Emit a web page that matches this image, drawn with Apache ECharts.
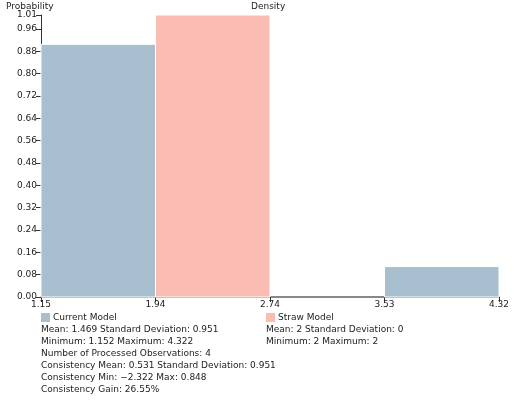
<!DOCTYPE html><html><head><meta charset="utf-8"><script src="https://cdn.jsdelivr.net/npm/echarts@6/dist/echarts.min.js"></script>
<style>html,body{margin:0;padding:0;background:#fff}#c{width:514px;height:416px}</style></head><body><div id="c"></div><script>
const tickLabels=['1.15','1.94','2.74','3.53','4.32'];
const currentBins=[[0,1,0.905],[3,4,0.109]];
const strawBins=[[1,2,1.01]];
const currentStats=['Mean: 1.469 Standard Deviation: 0.951','Minimum: 1.152 Maximum: 4.322','Number of Processed Observations: 4','Consistency Mean: 0.531 Standard Deviation: 0.951','Consistency Min: \u22122.322 Max: 0.848','Consistency Gain: 26.55%'];
const strawStats=['Mean: 2 Standard Deviation: 0','Minimum: 2 Maximum: 2'];
const F='DejaVu Sans';
const blue='#a7bfcf',pink='#fbbcb3';
function rect(color){return function(params,api){const a=api.coord([api.value(0),api.value(2)]);const b=api.coord([api.value(1),0]);return{type:'rect',shape:{x:a[0],y:a[1],width:b[0]-a[0],height:b[1]-a[1]},style:{fill:color,stroke:'#fff',lineWidth:1}};};}
const g=[];
function txt(x,y,t){g.push({type:'text',left:x,top:y,style:{text:t,font:'9px '+F,fill:'#222'}});}
g.push({type:'rect',left:41,top:313,shape:{width:9,height:9},style:{fill:blue}});
txt(53,313,'Current Model');
currentStats.forEach((s,i)=>txt(41,325+i*12,s));
g.push({type:'rect',left:266,top:313,shape:{width:9,height:9},style:{fill:pink}});
txt(278,313,'Straw Model');
strawStats.forEach((s,i)=>txt(266,325+i*12,s));
txt(6,2,'Probability');txt(251,2,'Density');
const ch=echarts.init(document.getElementById('c'));
ch.setOption({animation:false,grid:{left:41,right:15,top:15,bottom:119},
xAxis:{type:'value',min:0,max:4,interval:1,splitLine:{show:false},axisLine:{lineStyle:{color:'#888',width:2}},axisTick:{lineStyle:{color:'#333'}},axisLabel:{formatter:v=>tickLabels[v],color:'#222',fontFamily:F,fontSize:9,margin:3}},
yAxis:{type:'value',min:0,max:1.01,interval:0.08,splitLine:{show:false},axisLine:{show:true,lineStyle:{color:'#333'}},axisTick:{show:true,lineStyle:{color:'#333'}},axisLabel:{formatter:v=>v.toFixed(2),color:'#222',fontFamily:F,fontSize:9,margin:4}},
series:[{type:'custom',renderItem:rect(blue),data:currentBins,encode:{x:[0,1],y:2}},{type:'custom',renderItem:rect(pink),data:strawBins,encode:{x:[0,1],y:2}}],
graphic:g});
</script></body></html>
